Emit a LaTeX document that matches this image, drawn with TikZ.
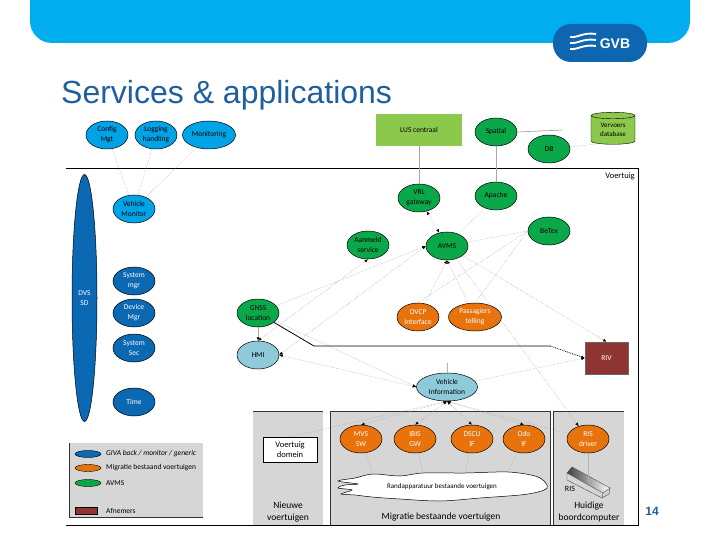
\documentclass[tikz,border=0pt]{standalone}
\usepackage{fontspec}
\setmainfont{Carlito}
\newfontfamily\arialfont{Liberation Sans}
\usetikzlibrary{arrows.meta,shapes.geometric}
\definecolor{gvbcyan}{HTML}{00ADEF}
\definecolor{gvbblue}{HTML}{0F66B0}
\definecolor{gvbtitle}{HTML}{1F5F9F}
\definecolor{svcblue}{HTML}{00A3E6}
\definecolor{svcdark}{HTML}{0B68B2}
\definecolor{svcgreen}{HTML}{0BA84A}
\definecolor{svcorange}{HTML}{E8720C}
\definecolor{svclight}{HTML}{8FCADB}
\definecolor{svclime}{HTML}{8CC84B}
\definecolor{svcred}{HTML}{8F3531}
\definecolor{panelgrey}{HTML}{D6D6D6}
\tikzset{
  svc/.style={ellipse, draw=black, line width=.5pt, minimum width=42pt, minimum height=28pt,
    inner sep=0pt, align=center, font=\fontsize{7.5}{10}\selectfont},
  bluesvc/.style={svc, fill=svcblue},
  darksvc/.style={svc, fill=svcdark, text=white},
  greensvc/.style={svc, fill=svcgreen},
  orangesvc/.style={svc, fill=svcorange, text=white},
  lightsvc/.style={svc, fill=svclight},
  panel/.style={fill=panelgrey, draw=none},
  link/.style={densely dotted, gray!75, line width=.45pt},
  wire/.style={gray!70, line width=.7pt},
  caption/.style={align=center, font=\fontsize{9.5}{12}\selectfont},
  legendtext/.style={anchor=west, inner sep=0pt, font=\fontsize{7.5}{9}\selectfont},
  >={Latex[length=3.5pt,width=3pt,black]}
}
\begin{document}
\begin{tikzpicture}[x=1pt, y=-1pt]
\useasboundingbox (0,0) rectangle (720,540);

% header and logo
\fill[gvbcyan, rounded corners=22pt] (30,-30) rectangle (690,43);
\fill[white] (0,-30) rectangle (720,0);
\fill[gvbblue, rounded corners=18pt] (553,24) rectangle (647,62);
\foreach \y in {37,43,49}
\draw[white, line width=1.9pt] (570,\y) .. controls (578,\y+1) and (583,\y-5) .. (596,\y-3);
\node[text=white, font=\arialfont\bfseries\fontsize{14}{14}\selectfont, inner sep=0pt] (logotext) at (615,44) {GVB};
\node[anchor=base west, text=gvbtitle, inner sep=0pt, font=\arialfont\fontsize{32}{32}\selectfont] (title) at (61,104) {Services \& applications};
\node[text=gvbtitle, inner sep=0pt, font=\arialfont\bfseries\fontsize{12}{12}\selectfont] (pagenr) at (652,511) {14};

% grey panels
\fill[panel] (69,443) rectangle (203,517);
\draw[black!80, line width=.7pt] (69,443) -- (69,517) -- (203,517);
\fill[panel] (253,411) rectangle (323,525);
\fill[panel] (330,411) rectangle (550,525);
\fill[panel] (553,411) rectangle (624,525);
\draw[black!80, line width=.7pt] (253,411) -- (323,411);
\draw[black!80, line width=.7pt] (330,525) -- (330,411) -- (550,411) -- (550,525);
\draw[black!80, line width=.7pt] (553,525) -- (553,411) -- (624,411);

% vehicle frame
\draw[black, line width=.8pt] (66,168) -- (638,168) -- (638,525) -- (66,525);
\node[font=\fontsize{8.5}{10}\selectfont] (voertuig) at (620,176) {Voertuig};

% backend
\node[bluesvc] (config) at (107,135) {Config\\Mgt};
\node[bluesvc] (logging) at (156,135) {Logging\\handling};
\node[bluesvc, minimum width=53pt] (monitoring) at (209,135) {Monitoring};
\node[fill=svclime, minimum width=86pt, minimum height=32pt, inner sep=0pt, font=\fontsize{7.5}{10}\selectfont] (lus) at (419,130) {LUS centraal};
\node[greensvc] (spatial) at (496,132) {Spatial};
\node[greensvc] (db) at (549,149) {DB};
\node[cylinder, shape border rotate=90, aspect=.25, draw=black, fill=svclime, minimum width=44pt, minimum height=32pt,
  inner sep=0pt, align=center, font=\fontsize{7}{9}\selectfont] (vervoer) at (613,130) {Vervoers\\database};
\coordinate (spatialend) at (562,130);

% vehicle services
\node[ellipse, draw=black, line width=.5pt, fill=svcdark, text=white, minimum width=25pt, minimum height=247pt,
  inner sep=0pt, align=center, font=\fontsize{7.5}{10}\selectfont] (dvs) at (84.5,298) {DVS\\SD};
\node[bluesvc] (monitor) at (134,209) {Vehicle\\Monitor};
\node[darksvc] (sysmgr) at (134,281) {System\\mgr};
\node[darksvc] (devmgr) at (134,313) {Device\\Mgr};
\node[darksvc] (syssec) at (134,348) {System\\Sec};
\node[darksvc] (time) at (134,402) {Time};
\node[greensvc] (gnss) at (258,313) {GNSS\\location};
\node[lightsvc] (hmi) at (258,355) {HMI};
\node[greensvc] (aanmeld) at (368,245) {Aanmeld\\service};
\node[greensvc] (avms) at (447,246) {AVMS};
\node[greensvc] (vrl) at (419,198) {VRL\\gateway};
\node[greensvc] (apache) at (496,196) {Apache};
\node[greensvc] (betex) at (549,231) {BeTex};
\node[orangesvc] (ovcp) at (418,317) {OVCP\\Interface};
\node[orangesvc, minimum width=53pt] (passagiers) at (475,317) {Passagiers\\telling};
\node[fill=svcred, draw=black!60, text=white, minimum width=43pt, minimum height=32pt, inner sep=0pt, font=\fontsize{7.5}{10}\selectfont] (riv) at (606.5,358) {RIV};
\node[lightsvc, minimum width=61pt] (vehinfo) at (447,387) {Vehicle\\Information};

% bottom domains
\node[draw=black, fill=white, minimum width=54pt, minimum height=25pt, inner sep=0pt, align=center, font=\fontsize{8.5}{10.5}\selectfont] (domein) at (290,449.5) {Voertuig\\domein};
\node[orangesvc] (mvs) at (361,439) {MVS\\SW};
\node[orangesvc] (ibis) at (415,439) {IBIS\\GW};
\node[orangesvc] (dscu) at (472,439) {DSCU\\IF};
\node[orangesvc] (odo) at (524,439) {Odo\\IF};
\node[orangesvc] (risdrv) at (588,439) {RIS\\driver};

\draw[black, line width=.5pt, fill=white] plot[smooth cycle, tension=.55] coordinates {
  (355,478) (373,474) (400,476) (423,473) (465,473) (508,472) (535,476) (545,482) (547,488) (538,492)
  (520,495) (480,498) (440,501) (400,499) (372,497) (355,495) (341,494) (352,490) (338,488) (345,485) (358,484) (338,481)};
\node[font=\fontsize{7}{9}\selectfont, inner sep=0pt] (cloud) at (442,487) {Randapparatuur bestaande voertuigen};
\coordinate (cloudmvs) at (373,474);
\coordinate (cloudibis) at (423,473);
\coordinate (clouddscu) at (465,473);
\coordinate (cloudodo) at (508,472);

% RIS box
\fill[gray!35] (567,473) -- (572,467) -- (610,488) -- (610,493) -- (603,497) -- cycle;
\shade[left color=black!75, right color=white] (567,473) -- (572,467) -- (610,488) -- (604,493) -- cycle;
\draw[black!70, line width=.4pt] (567,473) -- (572,467) -- (610,488) -- (609,494) -- (602,498) -- (567,480) -- cycle;
\draw[black!70, line width=.4pt] (567,473) -- (603,493) -- (610,488);
\draw[black!70, line width=.4pt] (603,493) -- (602,498);
\node[font=\fontsize{8}{10}\selectfont, inner sep=0pt] (rislabel) at (570,489) {RIS};
\coordinate (risbox) at (588,482);

\node[caption] (nieuw) at (288,512) {Nieuwe\\voertuigen};
\node[caption] (migratie) at (441,517) {Migratie bestaande voertuigen};
\node[caption] (huidig) at (589,512) {Huidige\\boordcomputer};

% legend
\node[ellipse, draw=black, line width=.4pt, fill=svcdark, minimum width=26pt, minimum height=7pt, inner sep=0pt] (legblue) at (88,454) {};
\node[ellipse, draw=black, line width=.4pt, fill=svcorange, minimum width=26pt, minimum height=7pt, inner sep=0pt] (legorange) at (88,468) {};
\node[ellipse, draw=black, line width=.4pt, fill=svcgreen, minimum width=26pt, minimum height=7pt, inner sep=0pt] (leggreen) at (88,483) {};
\node[draw=black, line width=.4pt, fill=svcred, minimum width=22pt, minimum height=7pt, inner sep=0pt] (legred) at (86,510.5) {};
\node[legendtext] (legtextblue) at (106,454) {\itshape GIVA back / monitor / generic};
\node[legendtext] (legtextorange) at (106,468) {Migratie bestaand voertuigen};
\node[legendtext] (legtextgreen) at (106,483) {AVMS};
\node[legendtext] (legtextred) at (106,511) {Afnemers};

% connectors
\foreach \a in {config,logging,monitoring}
\draw[link] (\a) -- (monitor);
\draw[wire] (lus) -- (vrl);
\draw[wire] (spatial) -- (apache);
\draw[wire] (spatial.east) -- (spatialend);
\draw[link] (db) -- (vervoer.south west);
\draw[link, <->] (vrl) -- (avms);
\draw[link] (apache) -- (avms);
\draw[link] (betex.west) -- (avms);
\draw[link] (betex.west) -- (ovcp.north);
\draw[link] (betex.west) -- (passagiers.north);
\draw[link, ->] (ovcp) -- (avms.south);
\draw[link, ->] (passagiers) -- (avms.south);
\draw[link, ->] (avms) -- (riv.north);
\draw[link, ->] (avms) -- (risdrv);
\draw[link, <->] (hmi.north) -- (aanmeld.south);
\draw[link, ->] (gnss) -- (avms.west);
\draw[link, <->] (hmi.east) -- (avms.west);
\draw[link, ->] (gnss) -- (vehinfo.west);
\draw[link, <->] (hmi.east) -- (vehinfo.west);
\draw[wire, ->] (gnss) -- (hmi);
\coordinate (busstart) at (314,346);
\coordinate (busend) at (550,346);
\coordinate (bustap) at (447,363);
\draw[black, line width=.8pt] (gnss) -- (busstart) -- (busend);
\draw[black, densely dotted, line width=.8pt, ->] (busend) -- (riv.west);
\draw[wire, gray!60] (bustap) -- (vehinfo.north);
\draw[link, ->] (vehinfo) -- (riv.west);
\draw[link] (domein.north) -- (vehinfo.south);
\foreach \a in {mvs,ibis,dscu,odo}
\draw[link, <->] (\a.north) -- (vehinfo.south);
\draw[link, <-] (vehinfo.south) -- (risdrv);
\draw[link] (mvs) -- (cloudmvs);
\draw[link] (ibis) -- (cloudibis);
\draw[link] (dscu) -- (clouddscu);
\draw[link] (odo) -- (cloudodo);
\draw[wire, gray!60] (risdrv) -- (risbox);
\end{tikzpicture}
\end{document}
